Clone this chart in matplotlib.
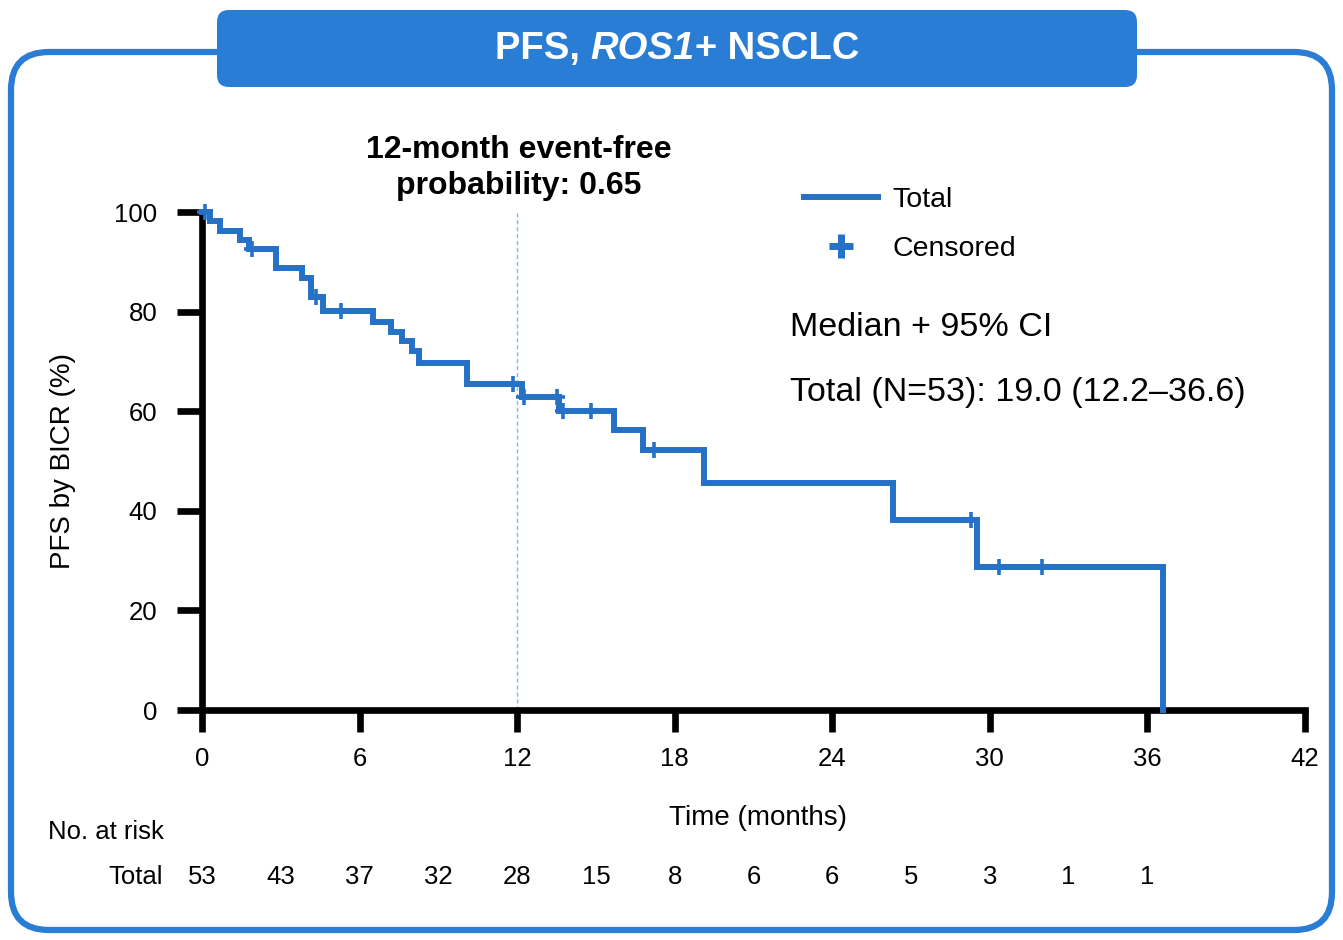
import numpy as np
import matplotlib
matplotlib.use("Agg")
import matplotlib.pyplot as plt
from matplotlib.patches import FancyBboxPatch
from matplotlib.transforms import blended_transform_factory
from matplotlib.lines import Line2D

plt.rcParams['font.family'] = ['Liberation Sans', 'DejaVu Sans']

# Kaplan-Meier step data (months, % event-free)
event_times = [0.3, 0.7, 1.45, 1.8, 2.8, 3.8, 4.15, 4.6, 6.5, 7.2, 7.6, 8.0,
               8.25, 10.1, 12.2, 13.6, 15.7, 16.8, 19.1, 26.3, 29.5, 36.6]
survival = [98.1, 96.2, 94.3, 92.5, 88.7, 86.8, 82.9, 80.1, 78.0, 76.0, 74.0,
            72.0, 69.6, 65.4, 62.9, 60.0, 56.2, 52.2, 45.6, 38.2, 28.7, 0.0]
censor_times = [0.1, 1.9, 4.35, 5.3, 11.85, 12.25, 13.5, 13.75, 14.8, 17.2,
                29.3, 30.35, 32.0]

# Number at risk table
risk_times = [0, 3, 6, 9, 12, 15, 18, 21, 24, 27, 30, 33, 36]
risk_counts = [53, 43, 37, 32, 28, 15, 8, 6, 6, 5, 3, 1, 1]

x_ticks = [0, 6, 12, 18, 24, 30, 36, 42]
y_ticks = [0, 20, 40, 60, 80, 100]

FRAME = '#2A7DD4'
CURVE = '#2571C6'

W, H = 1343, 940
fig = plt.figure(figsize=(W / 100, H / 100), dpi=100)

# Background panel in pixel coordinates
bg = fig.add_axes([0, 0, 1, 1])
bg.set_xlim(0, W)
bg.set_ylim(H, 0)
bg.axis('off')
bg.add_patch(FancyBboxPatch((11, 52), W - 22, 878,
                            boxstyle="round,pad=0,rounding_size=38",
                            fc='white', ec=FRAME, lw=4.5, zorder=1))
bg.add_patch(FancyBboxPatch((217, 10), 920, 77,
                            boxstyle="round,pad=0,rounding_size=12",
                            fc=FRAME, ec='none', zorder=2))

# Title with italic gene name
parts = [("PFS, ", 'normal'), ("ROS1+", 'italic'), (" NSCLC", 'normal')]
renderer = fig.canvas.get_renderer()
texts = []
for s, st in parts:
    t = bg.text(0, 49, s, color='white', fontsize=27.5, fontweight='bold',
                fontstyle=st, va='center', ha='left', zorder=3)
    texts.append(t)
widths = [t.get_window_extent(renderer).width for t in texts]
x0 = 677 - sum(widths) / 2
for t, w in zip(texts, widths):
    t.set_x(x0)
    x0 += w

# Main plot axes
ax = fig.add_axes([202 / W, 1 - 710 / H, 1103 / W, 498 / H])
ax.patch.set_alpha(0)
ax.set_xlim(0, 42)
ax.set_ylim(0, 100)
for side in ['top', 'right']:
    ax.spines[side].set_visible(False)
for side in ['left', 'bottom']:
    ax.spines[side].set_linewidth(4.8)
    ax.spines[side].set_capstyle('projecting')
ax.set_xticks(x_ticks)
ax.set_yticks(y_ticks)
ax.tick_params(axis='y', length=18, width=4.8, labelsize=18.5, pad=14)
ax.tick_params(axis='x', length=16, width=4.8, labelsize=18.5, pad=11)

# 12-month reference line
ax.axvline(12, color='#7FBDE6', lw=1.0, ls=(0, (3, 2)), zorder=1)

# Survival curve
t_steps = [0] + event_times
s_steps = [100] + survival
ax.step(t_steps, s_steps, where='post', color=CURVE, lw=4.3,
        solid_joinstyle='miter', zorder=3, clip_on=False)

idx = np.searchsorted(event_times, censor_times, side='right')
censor_vals = [s_steps[i] for i in idx]
ax.plot(censor_times, censor_vals, ls='none', marker='+', ms=12, mew=2.6,
        color=CURVE, zorder=4, clip_on=False)

ax.set_ylabel('PFS by BICR (%)', fontsize=20)
ax.yaxis.set_label_coords(-0.114, 0.5)

# Annotation above the 12-month line
fig.text(519 / W, 1 - 168 / H, '12-month event-free\nprobability: 0.65',
         ha='center', va='center', fontsize=23, fontweight='bold',
         linespacing=1.25)

# Legend
handles = [Line2D([], [], color=CURVE, lw=4.3),
           Line2D([], [], ls='none', marker='+', ms=17, mew=5, color=CURVE)]
fig.legend(handles, ['Total', 'Censored'], loc='upper left',
           bbox_to_anchor=(793 / W, 1 - 176 / H), frameon=False,
           fontsize=20.5, handlelength=2.6, handletextpad=0.5,
           labelspacing=0.8, borderaxespad=0)

fig.text(790 / W, 1 - 328 / H, 'Median + 95% CI', fontsize=24.5,
         va='center', ha='left')
fig.text(790 / W, 1 - 393 / H, 'Total (N=53): 19.0 (12.2\u201336.6)',
         fontsize=24.5, va='center', ha='left')

# Axis title and at-risk table
fig.text(758 / W, 1 - 818 / H, 'Time (months)', fontsize=20,
         ha='center', va='center')
fig.text(48 / W, 1 - 832 / H, 'No. at risk', fontsize=18.5,
         ha='left', va='center')
fig.text(163 / W, 1 - 877 / H, 'Total', fontsize=18.5, ha='right', va='center')
tr = blended_transform_factory(ax.transData, fig.transFigure)
for t, n in zip(risk_times, risk_counts):
    ax.text(t, 1 - 877 / H, str(n), transform=tr, fontsize=18.5,
            ha='center', va='center', clip_on=False)

fig.savefig('out.png', dpi=100)
